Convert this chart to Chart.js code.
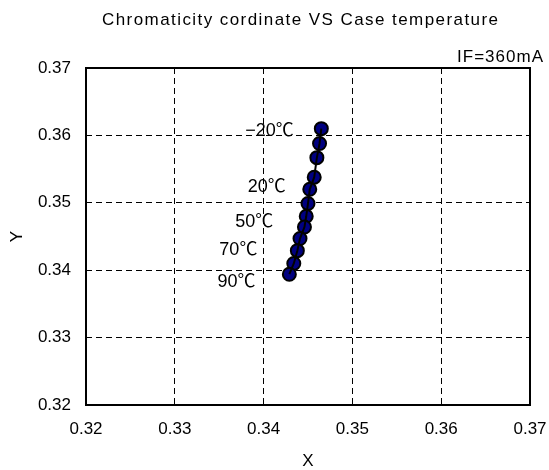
<!DOCTYPE html>
<html lang="ja">
<head>
<meta charset="UTF-8" />
<title>Chromaticity cordinate VS Case temperature</title>
<style>
  html, body { margin: 0; padding: 0; background: #fff; }
  .container { position: relative; width: 549px; height: 470px; }
</style>
<script src="https://cdn.jsdelivr.net/npm/chart.js"></script>
</head>
<body>
<div class="container"><canvas id="chart" width="549" height="470"></canvas></div>
<script>
// case temperature (°C) for each measured point
const temperatures = [-20, -10, 0, 10, 20, 30, 40, 50, 60, 70, 80, 90];
const xValues = [0.3465, 0.3463, 0.3460, 0.3457, 0.3452, 0.3450, 0.3448, 0.3446, 0.3441, 0.3438, 0.3434, 0.3429];
const yValues = [0.3610, 0.3588, 0.3567, 0.3538, 0.3520, 0.3499, 0.3480, 0.3464, 0.3447, 0.3429, 0.3410, 0.3394];

const xTicks = [0.32, 0.33, 0.34, 0.35, 0.36, 0.37];
const yTicks = [0.32, 0.33, 0.34, 0.35, 0.36, 0.37];

// temperature notes next to the curve (right edge / middle, in data units)
const noteTexts = ["−20℃", "20℃", "50℃", "70℃", "90℃"];
const noteX = [0.3434, 0.3425, 0.3411, 0.3393, 0.3391];
const noteY = [0.3606, 0.3523, 0.3472, 0.3430, 0.3383];

const chartTitle = "Chromaticity cordinate VS Case temperature";
const condition = "IF=360mA";

const FONT = "'Liberation Sans', 'Noto Sans CJK JP', sans-serif";

const points = xValues.map((x, i) => ({ x: x, y: yValues[i] }));

// draws text spread out to a given width (the original uses a wide gothic font)
function spreadText(ctx, text, left, y, width) {
  const w = ctx.measureText(text).width;
  const gap = text.length > 1 ? (width - w) / (text.length - 1) : 0;
  let x = left;
  for (const ch of text) {
    ctx.fillText(ch, x, y);
    x += ctx.measureText(ch).width + gap;
  }
}

// title, condition text, frame and temperature notes
const decoPlugin = {
  id: "deco",
  beforeDatasetsDraw(chart) {
    const { ctx, chartArea } = chart;
    ctx.save();
    ctx.strokeStyle = "#000";
    ctx.lineWidth = 2;
    ctx.strokeRect(chartArea.left, chartArea.top, chartArea.right - chartArea.left, chartArea.bottom - chartArea.top);
    ctx.restore();
  },
  afterDatasetsDraw(chart) {
    const { ctx, scales } = chart;
    ctx.save();
    ctx.fillStyle = "#000";
    ctx.textBaseline = "middle";
    ctx.textAlign = "left";

    ctx.font = "17px " + FONT;
    spreadText(ctx, chartTitle, 102, 20, 396);

    ctx.font = "17px " + FONT;
    spreadText(ctx, condition, 457, 57, 86);

    ctx.font = "18px " + FONT;
    ctx.textAlign = "right";
    noteTexts.forEach((t, i) => {
      ctx.fillText(t, scales.x.getPixelForValue(noteX[i]), scales.y.getPixelForValue(noteY[i]));
    });
    ctx.restore();
  },
};

new Chart(document.getElementById("chart"), {
  type: "scatter",
  data: {
    datasets: [
      {
        label: "line",
        data: points,
        showLine: true,
        borderColor: "#000",
        borderWidth: 2,
        pointRadius: 0,
        order: 0,
      },
      {
        label: "x,y",
        data: points,
        showLine: false,
        pointRadius: 6.5,
        pointBackgroundColor: "#000080",
        pointBorderColor: "#000",
        pointBorderWidth: 2,
        order: 1,
      },
    ],
  },
  options: {
    responsive: false,
    animation: false,
    layout: { padding: { top: 68, right: 19, left: 0, bottom: 0 } },
    scales: {
      x: {
        type: "linear",
        min: 0.32,
        max: 0.37,
        afterBuildTicks: (s) => { s.ticks = xTicks.map((v) => ({ value: v })); },
        afterFit: (s) => { s.height = 65; s.paddingLeft = 0; s.paddingRight = 0; },
        ticks: {
          color: "#000",
          font: { family: FONT, size: 17 },
          padding: 14,
          maxRotation: 0,
          callback: (v) => v.toFixed(2),
        },
        grid: { color: "#000", lineWidth: 1, drawTicks: false },
        border: { display: false, dash: [6, 4] },
        title: { display: true, text: "X", color: "#000", font: { family: FONT, size: 17 }, padding: { top: 0, bottom: -2 } },
      },
      y: {
        type: "linear",
        min: 0.32,
        max: 0.37,
        afterBuildTicks: (s) => { s.ticks = yTicks.map((v) => ({ value: v })); },
        afterFit: (s) => { s.width = 86; s.paddingTop = 0; s.paddingBottom = 0; },
        ticks: {
          color: "#000",
          font: { family: FONT, size: 17 },
          padding: 15,
          callback: (v) => v.toFixed(2),
        },
        grid: { color: "#000", lineWidth: 1, drawTicks: false },
        border: { display: false, dash: [6, 4] },
        title: { display: true, text: "Y", color: "#000", font: { family: FONT, size: 17 }, padding: { top: 7, bottom: 0 } },
      },
    },
    plugins: {
      legend: { display: false },
      tooltip: { enabled: false },
      title: { display: false },
    },
  },
  plugins: [decoPlugin],
});
</script>
</body>
</html>
